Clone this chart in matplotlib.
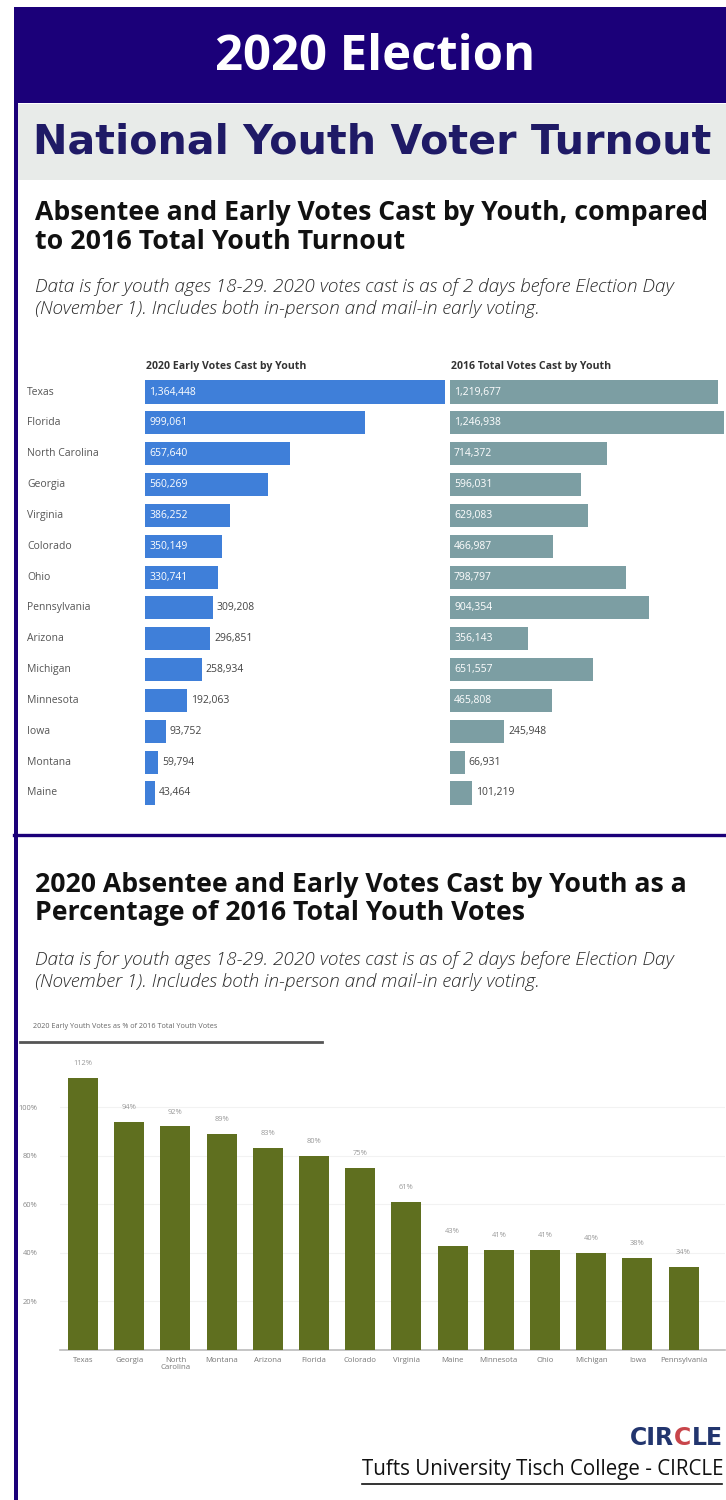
import matplotlib
matplotlib.use("Agg")
import matplotlib.pyplot as plt
from matplotlib.patches import Rectangle
from matplotlib.lines import Line2D

# --- data ---
states = ["Texas", "Florida", "North Carolina", "Georgia", "Virginia", "Colorado",
          "Ohio", "Pennsylvania", "Arizona", "Michigan", "Minnesota", "Iowa",
          "Montana", "Maine"]
early_2020 = [1364448, 999061, 657640, 560269, 386252, 350149, 330741,
              309208, 296851, 258934, 192063, 93752, 59794, 43464]
total_2016 = [1219677, 1246938, 714372, 596031, 629083, 466987, 798797,
              904354, 356143, 651557, 465808, 245948, 66931, 101219]

pct_states = ["Texas", "Georgia", "North\nCarolina", "Montana", "Arizona", "Florida",
              "Colorado", "Virginia", "Maine", "Minnesota", "Ohio", "Michigan",
              "Iowa", "Pennsylvania"]
pct_values = [112, 94, 92, 89, 83, 80, 75, 61, 43, 41, 41, 40, 38, 34]
pct_ticks = [20, 40, 60, 80, 100]

NAVY = "#1b0079"
BLUE = "#3f7fd9"
TEAL = "#7c9ea3"
OLIVE = "#5f6f1f"

W, H = 726, 1500
fig = plt.figure(figsize=(W / 100, H / 100), dpi=100)
renderer = fig.canvas.get_renderer()


def px(x, y):
    return x / W, 1 - y / H


def box(x0, y0, x1, y1, color):
    fig.patches.append(Rectangle(px(x0, y1), (x1 - x0) / W, (y1 - y0) / H,
                                 transform=fig.transFigure, color=color, lw=0, zorder=0))


def fit_text(x, y, s, width, **kw):
    t = fig.text(*px(x, y), s, **kw)
    w = t.get_window_extent(renderer).width
    t.set_fontsize(t.get_fontsize() * width / w)
    return t


# header blocks and frame
box(14, 7, 726, 103, NAVY)
box(14, 7, 18, 1500, NAVY)
box(18, 104, 726, 180, "#e8ebe9")
fig.add_artist(Line2D([14 / W, 1], [1 - 835 / H] * 2, color=NAVY, lw=2.4,
                      transform=fig.transFigure))

fit_text(375, 57, "2020 Election", 320, color="white", fontsize=30,
         fontweight="bold", family="Open Sans", ha="center", va="center")
fit_text(372, 143, "National Youth Voter Turnout", 679, color="#1f1a66",
         fontsize=26, fontweight="bold", family="DejaVu Sans", ha="center", va="center")

# section headings
head_kw = dict(fontsize=15, fontweight="bold", family="Open Sans", color="#111111",
               va="center", ha="left")
fit_text(35, 213, "Absentee and Early Votes Cast by Youth, compared", 673, **head_kw)
fit_text(35, 242, "to 2016 Total Youth Turnout", 370, **head_kw)
fit_text(35, 885, "2020 Absentee and Early Votes Cast by Youth as a", 652, **head_kw)
fit_text(35, 913, "Percentage of 2016 Total Youth Votes", 490, **head_kw)

note_kw = dict(fontsize=11, style="italic", fontweight="light", family="Open Sans",
               color="#2a2a2a", va="center", ha="left")
for y0 in (287, 960):
    fit_text(35, y0, "Data is for youth ages 18-29. 2020 votes cast is as of 2 days before Election Day",
             640, **note_kw)
    fit_text(35, y0 + 22, "(November 1). Includes both in-person and mail-in early voting.",
             504, **note_kw)

# --- chart 1: horizontal bars, two panels on a shared scale ---
scale = 300 / max(early_2020)          # pixels per vote
y_top, y_bot = 376.6, 808.4
n = len(states)
ypos = list(range(n))


def hbar_panel(x0, width_px, values, color, header):
    ax = fig.add_axes([x0 / W, 1 - y_bot / H, width_px / W, (y_bot - y_top) / H])
    ax.barh(ypos, values, height=0.75, color=color)
    ax.set_xlim(0, width_px / scale)
    ax.set_ylim(n - 0.5, -0.5)
    ax.axis("off")
    for i, v in enumerate(values):
        if v > 320000:
            ax.text(4 / scale, i, f"{v:,}", color="white", fontsize=7.5,
                    va="center", ha="left", family="Open Sans")
        else:
            ax.text(v + 4 / scale, i, f"{v:,}", color="#444444", fontsize=7.5,
                    va="center", ha="left", family="Open Sans")
    fig.text(*px(x0 + 1, 366), header, fontsize=7.6, fontweight="bold",
             family="Open Sans", color="#333333", va="center", ha="left")
    return ax


hbar_panel(145, 300, early_2020, BLUE, "2020 Early Votes Cast by Youth")
hbar_panel(450, 290, total_2016, TEAL, "2016 Total Votes Cast by Youth")

row_h = (y_bot - y_top) / n
for i, s in enumerate(states):
    fig.text(*px(27, y_top + row_h * (i + 0.5)), s, fontsize=7.5, family="Open Sans",
             color="#555555", va="center", ha="left")

# --- chart 2: percentage columns ---
fig.text(*px(33, 1027), "2020 Early Youth Votes as % of 2016 Total Youth Votes",
         fontsize=5.2, family="Open Sans", color="#666666", va="center", ha="left")
fig.add_artist(Line2D([20 / W, 322 / W], [1 - 1042 / H] * 2, color="#555555", lw=2,
                      transform=fig.transFigure))

base_y, top_y = 1350, 1050
slot = 46.2
left_x = 83 - slot / 2
ax2 = fig.add_axes([left_x / W, 1 - base_y / H, (slot * 14.4) / W, (base_y - top_y) / H])
xs = list(range(len(pct_values)))
ax2.bar(xs, pct_values, width=0.65, color=OLIVE, zorder=3)
ax2.set_xlim(-0.5, 13.9)
ax2.set_ylim(0, (base_y - top_y) / 2.43)
ax2.set_yticks(pct_ticks)
ax2.set_yticklabels([f"{t}%" for t in pct_ticks], fontsize=5.4, color="#888888",
                    family="Open Sans")
ax2.set_xticks(xs)
ax2.set_xticklabels(pct_states, fontsize=5.6, color="#777777", family="Open Sans",
                    linespacing=1.1)
ax2.tick_params(length=0, pad=5)
ax2.tick_params(axis="y", pad=16)
ax2.grid(axis="y", color="#f2f2f2", lw=0.8, zorder=0)
for side in ("top", "right", "left"):
    ax2.spines[side].set_visible(False)
ax2.spines["bottom"].set_color("#bbbbbb")
ax2.spines["bottom"].set_linewidth(1.2)
for x, v in zip(xs, pct_values):
    ax2.text(x, v + 4.5, f"{v}%", ha="center", va="bottom", fontsize=5.4,
             color="#999999", family="Open Sans")

# --- footer ---
logo_kw = dict(fontsize=17, fontweight="bold", family="DejaVu Sans", va="center", ha="left")
x_cur = 630
for part, col in (("CIR", "#22356e"), ("C", "#c8454a"), ("LE", "#22356e")):
    t = fig.text(*px(x_cur, 1438), part, color=col, **logo_kw)
    x_cur += t.get_window_extent(renderer).width
fit_text(362, 1469, "Tufts University Tisch College - CIRCLE", 360, fontsize=13,
         family="Open Sans", color="#111111", va="center", ha="left")
fig.add_artist(Line2D([362 / W, 722 / W], [1 - 1484 / H] * 2, color="#111111", lw=1.2,
                      transform=fig.transFigure))

fig.savefig("out.png", dpi=100)
